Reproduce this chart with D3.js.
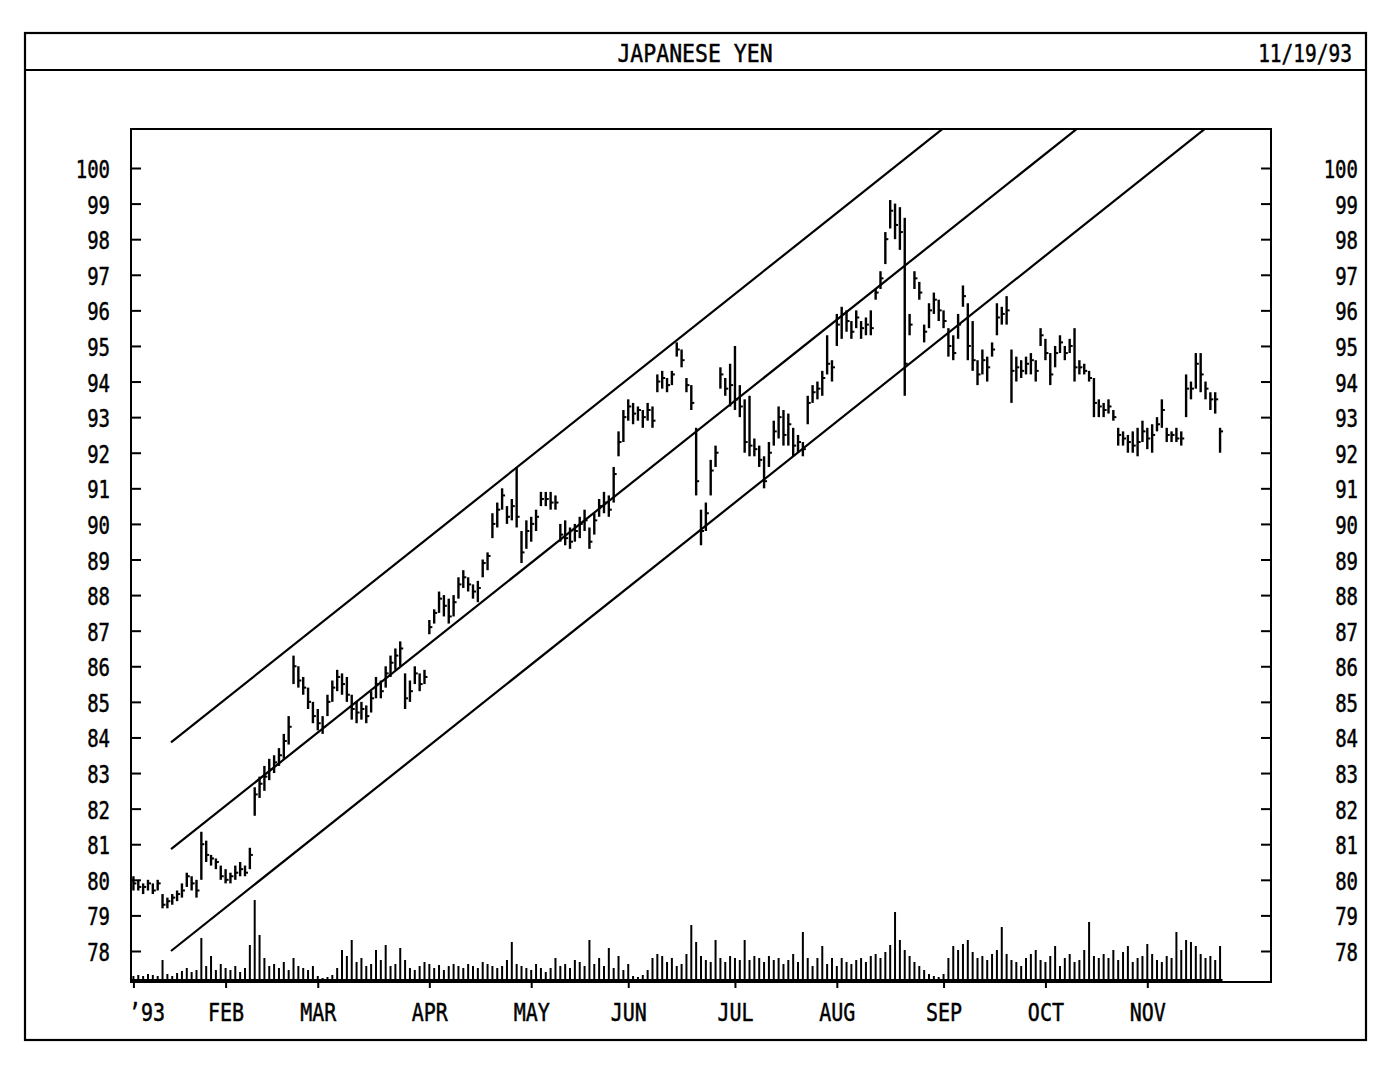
<!DOCTYPE html>
<html><head><meta charset="utf-8">
<script src="https://cdn.jsdelivr.net/npm/d3@7/dist/d3.min.js"></script>
<style>
html,body{margin:0;padding:0;background:#fff;}
svg{display:block;}
text{font-family:"DejaVu Sans Mono",monospace;fill:#000;stroke:#000;stroke-width:0.5px;}
</style></head>
<body>
<svg id="chart" width="1392" height="1067"></svg>
<script>
// ---------- DATA ----------
const title = "JAPANESE YEN";
const dateLabel = "11/19/93";
const yTicks = [78,79,80,81,82,83,84,85,86,87,88,89,90,91,92,93,94,95,96,97,98,99,100];
const monthLabels = ["\u201993","FEB","MAR","APR","MAY","JUN","JUL","AUG","SEP","OCT","NOV"];
const monthTickDays = [0,19,38,61,82,102,124,145,167,188,209];

const highs = [
80.1,80.0,79.9,80.0,79.9,80.0,79.6,79.5,79.6,79.7,
79.9,80.2,80.1,80.0,81.35,81.1,80.7,80.6,80.4,80.3,
80.2,80.4,80.5,80.4,80.9,82.6,82.9,83.2,83.4,83.5,
83.7,84.1,84.6,86.3,86.0,85.7,85.4,85.0,84.8,84.6,
85.2,85.6,85.9,85.8,85.7,85.2,85.0,85.0,84.9,85.3,
85.7,85.6,86.0,86.3,86.5,86.7,85.8,85.6,86.0,85.8,
85.9,87.3,87.6,88.1,88.0,87.9,88.0,88.5,88.7,88.5,
88.3,88.4,89.0,89.2,90.3,90.6,91.0,90.5,90.7,91.6,
89.8,90.1,90.2,90.4,90.9,90.9,90.9,90.8,90.0,90.1,
89.9,90.0,90.2,90.4,89.9,90.3,90.7,90.9,90.8,91.6,
92.6,93.2,93.5,93.4,93.3,93.2,93.4,93.3,94.2,94.3,
94.1,94.3,95.1,94.9,94.1,93.9,92.7,90.4,90.6,91.8,
92.2,94.4,94.1,94.5,95.0,93.9,93.5,93.6,92.4,92.2,
91.9,92.3,92.9,93.3,93.2,93.1,92.7,92.5,92.3,93.6,
93.9,94.0,94.3,95.3,94.6,95.9,96.1,96.0,95.7,96.0,
95.7,95.8,96.0,96.6,97.1,98.2,99.1,99.0,98.9,98.6,
95.9,97.1,96.8,95.6,96.2,96.5,96.3,96.0,95.5,95.3,
95.9,96.7,96.2,95.7,94.6,94.9,94.7,95.1,96.2,96.1,
96.4,94.9,94.7,94.6,94.7,94.8,94.6,95.5,95.2,94.8,
95.0,95.3,95.0,95.2,95.5,94.6,94.5,94.3,94.1,93.5,
93.4,93.5,93.2,92.7,92.6,92.5,92.6,92.7,92.9,92.7,
92.8,93.0,93.5,92.7,92.6,92.7,92.6,94.2,94.0,94.8,
94.8,94.0,93.7,93.7,92.7];
const lows = [
79.7,79.7,79.6,79.7,79.6,79.7,79.2,79.2,79.3,79.4,
79.5,79.8,79.7,79.5,80.0,80.5,80.4,80.3,80.0,79.9,
79.9,80.0,80.1,80.1,80.3,81.8,82.3,82.5,82.8,83.0,
83.2,83.4,83.8,85.5,85.4,85.2,84.8,84.4,84.2,84.1,
84.6,85.0,85.3,85.2,85.0,84.5,84.4,84.5,84.4,84.7,
85.1,85.1,85.4,85.7,85.9,86.0,84.8,85.0,85.5,85.3,
85.5,86.9,87.2,87.5,87.4,87.2,87.4,87.9,88.2,88.1,
87.9,87.8,88.5,88.7,89.6,89.9,90.4,90.0,90.1,89.9,
88.9,89.3,89.5,89.8,90.5,90.5,90.4,90.4,89.5,89.4,
89.3,89.5,89.6,89.8,89.3,89.7,90.2,90.3,90.2,90.6,
91.9,92.3,92.9,92.8,92.9,92.7,92.9,92.7,93.7,93.8,
93.7,93.9,94.7,94.4,93.7,93.2,90.8,89.4,89.8,90.8,
91.6,93.8,93.6,93.3,93.2,93.0,92.0,91.9,91.9,91.6,
91.0,91.6,92.2,92.4,92.2,92.2,91.9,92.0,91.9,92.8,
93.4,93.5,93.6,94.2,94.0,95.0,95.2,95.4,95.2,95.5,
95.2,95.3,95.3,96.3,96.6,97.3,98.3,98.0,97.7,93.6,
95.3,96.6,96.3,95.1,95.5,95.9,95.7,95.5,94.7,94.6,
95.2,96.1,94.6,94.3,93.9,94.2,94.0,94.7,95.3,95.6,
95.6,93.4,94.0,94.1,94.2,94.2,94.0,95.0,94.6,93.9,
94.4,94.8,94.6,94.8,94.0,94.2,94.2,94.0,93.0,93.0,
93.0,93.1,92.9,92.2,92.2,92.0,92.0,91.9,92.3,92.1,
92.0,92.6,92.7,92.3,92.3,92.3,92.2,93.0,93.5,93.8,
93.7,93.5,93.2,93.1,92.0];
const closes = [
79.9,79.8,79.8,79.9,79.7,79.9,79.3,79.4,79.5,79.6,
79.7,80.1,79.9,79.7,81.0,80.7,80.6,80.5,80.1,80.0,
80.1,80.2,80.3,80.2,80.7,82.4,82.7,82.9,83.1,83.3,
83.5,83.9,84.3,86.0,85.6,85.4,85.0,84.6,84.4,84.3,
85.0,85.4,85.7,85.5,85.2,84.8,84.7,84.8,84.6,85.1,
85.5,85.3,85.8,86.1,86.3,86.5,85.1,85.3,85.8,85.5,
85.7,87.1,87.5,87.9,87.7,87.4,87.8,88.3,88.5,88.3,
88.1,88.2,88.9,89.1,90.0,90.4,90.8,90.2,90.5,90.2,
89.2,89.8,90.0,90.2,90.7,90.7,90.6,90.6,89.7,89.6,
89.5,89.8,90.0,90.1,89.5,90.1,90.5,90.6,90.4,91.4,
92.3,93.0,93.3,93.1,93.2,93.0,93.2,92.9,94.0,94.1,
93.9,94.2,94.9,94.6,93.9,93.4,91.2,89.8,90.3,91.5,
92.0,94.2,93.8,93.9,93.5,93.3,92.3,92.2,92.1,91.8,
91.2,92.0,92.6,93.0,92.5,92.8,92.2,92.3,92.1,93.4,
93.7,93.8,94.1,94.5,94.4,95.6,95.9,95.7,95.4,95.8,
95.5,95.6,95.5,96.5,96.9,98.0,98.8,98.4,98.2,94.5,
95.6,96.9,96.5,95.4,96.0,96.3,96.0,95.7,95.0,94.8,
95.6,96.4,95.0,94.6,94.2,94.6,94.4,94.9,95.8,95.9,
96.0,94.3,94.4,94.3,94.5,94.6,94.3,95.3,94.8,94.2,
94.8,95.1,94.8,95.0,94.4,94.4,94.3,94.1,93.4,93.3,
93.2,93.3,93.0,92.5,92.4,92.3,92.2,92.3,92.6,92.4,
92.5,92.8,93.2,92.5,92.5,92.4,92.4,93.8,93.8,94.5,
94.2,93.8,93.5,93.5,92.6];
const volumes = [
4,5,4,6,5,4,20,6,4,7,
9,12,8,10,42,14,24,10,16,12,
10,14,8,12,35,80,45,22,14,16,
12,18,10,22,14,12,10,14,4,2,
3,5,12,30,24,40,18,22,14,16,
30,20,35,14,16,32,20,12,10,14,
18,16,12,15,10,14,16,14,12,16,
14,12,18,16,14,12,14,20,38,16,
14,12,10,16,12,8,12,22,14,16,
12,20,18,14,40,16,22,14,32,12,
24,10,16,4,3,5,10,22,26,24,
18,22,14,16,26,55,38,24,20,18,
40,22,18,24,22,20,40,20,24,22,
18,24,20,22,16,20,26,18,48,22,
14,22,34,16,22,14,22,18,16,20,
22,18,24,26,22,28,35,68,40,30,
24,18,14,10,6,4,3,6,22,34,
30,36,40,28,22,24,20,26,30,53,
26,20,18,14,22,26,30,20,18,24,
34,14,22,26,18,20,30,58,24,22,
26,22,30,20,28,34,18,22,24,36,
26,20,18,24,22,48,30,40,38,34,
26,22,24,20,34];
// trend channel: [startDay, startValue, endDay, endValue]
const trendUpper = [7.75, 83.86, 230, 107.95];
const trendMiddle = [7.75, 80.86, 230, 104.95];
const trendLower = [7.75, 78.0, 230, 102.09];

// ---------- LAYOUT ----------
const svg = d3.select("#chart");
const P = {left:131, right:1271, top:129, bottom:982};
const x = d3.scaleLinear().domain([0,235]).range([P.left,P.right]);
const y = d3.scaleLinear().domain([78,100]).range([951,168]);
const yVol = d3.scaleLinear().domain([0,100]).range([980,880]);
const SX = 0.76;
const FS = 25;

// outer frame and title bar
svg.append("rect").attr("x",25).attr("y",33).attr("width",1341).attr("height",1007)
  .attr("fill","none").attr("stroke","#000").attr("stroke-width",2.2);
svg.append("line").attr("x1",25).attr("x2",1366).attr("y1",70).attr("y2",70)
  .attr("stroke","#000").attr("stroke-width",2.2);
function sText(str, px, py, anchor, sx, size){
  return svg.append("text").attr("transform",`translate(${px},${py}) scale(${sx},1)`)
    .attr("text-anchor",anchor).attr("font-size",size).text(str);
}
sText(title, 695, 62, "middle", 0.86, FS);
sText(dateLabel, 1352, 62, "end", 0.78, FS);

// plot frame
svg.append("rect").attr("x",P.left).attr("y",P.top).attr("width",P.right-P.left).attr("height",P.bottom-P.top)
  .attr("fill","none").attr("stroke","#000").attr("stroke-width",2);

// left axis
const gl = svg.append("g").attr("transform",`translate(${P.left},0)`)
  .call(d3.axisLeft(y).tickValues(yTicks).tickSize(-10).tickSizeOuter(0).tickFormat(d3.format("d")));
gl.select(".domain").remove();
gl.selectAll(".tick line").attr("stroke","#000").attr("stroke-width",2);
gl.selectAll(".tick text").attr("font-size",FS).attr("font-family","DejaVu Sans Mono")
  .attr("text-anchor","end").attr("x",-21/SX).attr("dy","0.38em").attr("transform",`scale(${SX},1)`);

// right axis
const gr = svg.append("g").attr("transform",`translate(${P.right},0)`)
  .call(d3.axisRight(y).tickValues(yTicks).tickSize(-10).tickSizeOuter(0).tickFormat(d3.format("d")));
gr.select(".domain").remove();
gr.selectAll(".tick line").attr("stroke","#000").attr("stroke-width",2);
gr.selectAll(".tick text").attr("font-size",FS).attr("font-family","DejaVu Sans Mono")
  .attr("text-anchor","end").attr("x",87/SX).attr("dy","0.38em").attr("transform",`scale(${SX},1)`);

// bottom axis (months)
const gb = svg.append("g").attr("transform",`translate(0,${P.bottom})`)
  .call(d3.axisBottom(x).tickValues(monthTickDays.map(d=>d+0.5)).tickSize(6).tickSizeOuter(0)
    .tickFormat((d,i)=>monthLabels[i]));
gb.select(".domain").remove();
gb.selectAll(".tick line").attr("stroke","#000").attr("stroke-width",2);
gb.selectAll(".tick text").attr("font-size",FS).attr("font-family","DejaVu Sans Mono")
  .attr("y",null).attr("dy",null)
  .attr("transform",`translate(0,39) scale(0.8,1)`)
  .attr("text-anchor","middle")
  .attr("x",(d,i)=> i===0 ? 13/0.8 : 0);

// clip
svg.append("clipPath").attr("id","clip").append("rect")
  .attr("x",P.left).attr("y",P.top).attr("width",P.right-P.left).attr("height",P.bottom-P.top);
const plot = svg.append("g").attr("clip-path","url(#clip)");

// trend channel
[trendUpper,trendMiddle,trendLower].forEach(t=>{
  plot.append("line")
    .attr("x1",x(t[0]+0.5)).attr("y1",y(t[1]))
    .attr("x2",x(t[2]+0.5)).attr("y2",y(t[3]))
    .attr("stroke","#000").attr("stroke-width",2.2);
});

// price bars
const days = highs.map((h,i)=>i);
plot.append("g").selectAll("line").data(days).join("line")
  .attr("x1",i=>x(i+0.5)).attr("x2",i=>x(i+0.5))
  .attr("y1",i=>y(highs[i])).attr("y2",i=>y(lows[i]))
  .attr("stroke","#000").attr("stroke-width",2.4);
plot.append("g").selectAll("line").data(days).join("line")
  .attr("x1",i=>x(i+0.5)).attr("x2",i=>x(i+0.5)+3)
  .attr("y1",i=>y(closes[i])).attr("y2",i=>y(closes[i]))
  .attr("stroke","#000").attr("stroke-width",2);

// volume bars
plot.append("g").selectAll("line").data(days).join("line")
  .attr("x1",i=>x(i+0.5)).attr("x2",i=>x(i+0.5))
  .attr("y1",yVol(0)).attr("y2",i=>yVol(volumes[i]))
  .attr("stroke","#000").attr("stroke-width",2);
plot.append("line").attr("x1",P.left).attr("x2",x(225)).attr("y1",yVol(0)).attr("y2",yVol(0))
  .attr("stroke","#000").attr("stroke-width",2);
</script>
</body></html>
